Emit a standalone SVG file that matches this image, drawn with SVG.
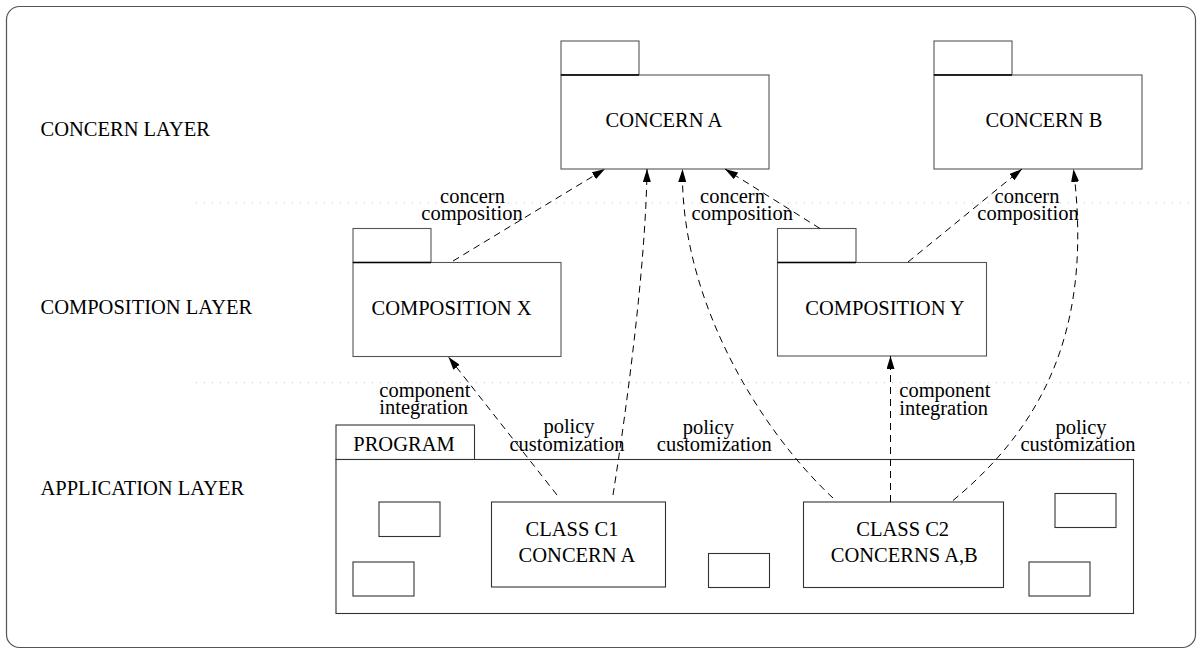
<svg xmlns="http://www.w3.org/2000/svg" width="1202" height="653" viewBox="0 0 1202 653" font-family="'Liberation Serif', 'Times New Roman', serif">
<style>
text{font-family:'Liberation Serif','Times New Roman',serif;font-size:20.5px;fill:#000}
.m{text-anchor:middle}
.box{fill:#fff;stroke:#555;stroke-width:1.1}
.sb{fill:#fff;stroke:#333;stroke-width:1.1}
.tabl{stroke:#000;stroke-width:1.6}
.con{fill:none;stroke:#000;stroke-width:1;stroke-dasharray:7 5}
.dot{stroke:#c8c8c8;stroke-width:1;stroke-dasharray:1 7}
</style>
<defs>
<marker id="ah" markerUnits="userSpaceOnUse" markerWidth="13" markerHeight="8" refX="13" refY="4" orient="auto">
<path d="M0,0 L13,4 L0,8 z" fill="#000"/>
</marker>
</defs>
<rect x="6.5" y="6.5" width="1189" height="641" rx="13" fill="#fff" stroke="#555" stroke-width="1.2"/>
<line class="dot" x1="196" y1="203" x2="1196" y2="203"/>
<line class="dot" x1="196" y1="382.5" x2="1196" y2="382.5"/>
<g id="layers">
<text x="40.5" y="135.7">CONCERN LAYER</text>
<text x="40.5" y="314">COMPOSITION LAYER</text>
<text x="40.5" y="495">APPLICATION LAYER</text>
</g>
<g id="concernA">
<rect class="box" x="561" y="41" width="78" height="34"/>
<rect class="box" x="561" y="75" width="208" height="94"/>
<line class="tabl" x1="561" y1="75" x2="639" y2="75"/>
<text class="m" x="664" y="126.7">CONCERN A</text>
</g>
<g id="concernB">
<rect class="box" x="934" y="41" width="78" height="34"/>
<rect class="box" x="934" y="75" width="208" height="94"/>
<line class="tabl" x1="934" y1="75" x2="1012" y2="75"/>
<text class="m" x="1044" y="126.7">CONCERN B</text>
</g>
<g id="compX">
<rect class="box" x="353" y="228.5" width="78" height="34"/>
<rect class="box" x="353" y="262.5" width="208" height="94"/>
<line class="tabl" x1="353" y1="262.5" x2="431" y2="262.5"/>
<text class="m" x="451.5" y="315">COMPOSITION X</text>
</g>
<g id="compY">
<rect class="box" x="777.5" y="228.5" width="78.5" height="34"/>
<rect class="box" x="777.5" y="262.5" width="209" height="93.5"/>
<line class="tabl" x1="777.5" y1="262.5" x2="856" y2="262.5"/>
<text class="m" x="885" y="315">COMPOSITION Y</text>
</g>
<g id="program">
<rect class="sb" x="336" y="425" width="138.5" height="34.5"/>
<rect class="sb" x="336" y="459.5" width="797.5" height="154"/>
<text class="m" x="404" y="450.7">PROGRAM</text>
<rect class="sb" x="379" y="502" width="61" height="34.5"/>
<rect class="sb" x="353" y="562" width="61" height="34"/>
<rect class="sb" x="708.5" y="553.5" width="61" height="34"/>
<rect class="sb" x="1055" y="493.5" width="61" height="34"/>
<rect class="sb" x="1029" y="562" width="61" height="34"/>
</g>
<g id="classC1">
<rect class="sb" x="491.5" y="502" width="174" height="85"/>
<text class="m" x="572" y="536">CLASS C1</text>
<text class="m" x="577" y="562.3">CONCERN A</text>
</g>
<g id="classC2">
<rect class="sb" x="803.5" y="502" width="200" height="85.5"/>
<text class="m" x="902.7" y="536">CLASS C2</text>
<text class="m" x="904.3" y="562.3">CONCERNS A,B</text>
</g>
<g id="connectors">
<path class="con" d="M453,261 L605,169" marker-end="url(#ah)"/>
<path class="con" d="M613,495 C628,400 646,260 647,169" marker-end="url(#ah)"/>
<path class="con" d="M833,498 C760,430 680,300 682.5,169" marker-end="url(#ah)"/>
<path class="con" d="M820,228.5 L725,169" marker-end="url(#ah)"/>
<path class="con" d="M908,262 L1022,169" marker-end="url(#ah)"/>
<path class="con" d="M953,500.5 C1050,420 1092,320 1073.5,169" marker-end="url(#ah)"/>
<path class="con" d="M557,495 L448.5,357" marker-end="url(#ah)"/>
<path class="con" d="M890.5,502 L890.5,356" marker-end="url(#ah)"/>
</g>
<g id="labels">
<text class="m" x="472.5" y="202.5">concern</text>
<text class="m" x="472" y="220">composition</text>
<text class="m" x="732.5" y="202.5">concern</text>
<text class="m" x="742.3" y="220">composition</text>
<text class="m" x="1027" y="202.5">concern</text>
<text class="m" x="1028" y="220">composition</text>
<text x="379.3" y="396.5">component</text>
<text x="379.3" y="414">integration</text>
<text x="899.3" y="397">component</text>
<text x="899.3" y="414.5">integration</text>
<text class="m" x="569" y="433">policy</text>
<text class="m" x="567" y="450.5">customization</text>
<text class="m" x="708.3" y="433.5">policy</text>
<text class="m" x="714.3" y="451">customization</text>
<text class="m" x="1081" y="433.5">policy</text>
<text class="m" x="1078" y="451">customization</text>
</g>
</svg>
